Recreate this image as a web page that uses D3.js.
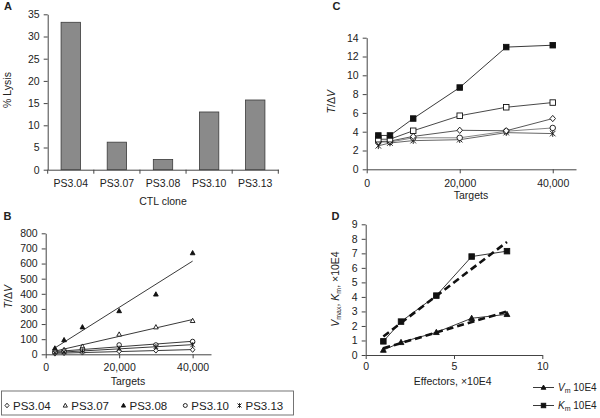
<!DOCTYPE html>
<html><head><meta charset="utf-8">
<script src="https://cdn.jsdelivr.net/npm/d3@7"></script>
<style>
body{margin:0;background:#fff}
svg{display:block}
text{font-family:"Liberation Sans",Arial,sans-serif;fill:#222}
</style>
</head><body>
<svg id="chart" width="600" height="418"></svg>
<script>
// ---------- DATA ----------
const clones = ["PS3.04", "PS3.07", "PS3.08", "PS3.10", "PS3.13"];
const lysis = [33.2, 6.2, 2.3, 13.0, 15.7];
const aYTicks = [0, 5, 10, 15, 20, 25, 30, 35];

const targets = [2500, 5000, 10000, 20000, 30000, 40000];
const targetTicks = [0, 20000, 40000];

// Panel B: T/ΔV per clone
const bPS304 = [5, 8, 12, 20, 25, 30];
const bPS307 = [25, 30, 52, 132, 180, 222];
const bPS308 = [40, 95, 180, 287, 397, 670];
const bPS310 = [15, 22, 30, 62, 62, 85];
const bPS313 = [10, 15, 22, 40, 50, 62];
const bYTicks = [0, 100, 200, 300, 400, 500, 600, 700, 800];

// Panel C: T/ΔV per clone
const cPS308 = [3.6, 3.6, 5.4, 8.7, 13.0, 13.2];
const cPS307 = [3.2, 3.2, 4.1, 5.7, 6.6, 7.1];
const cPS304 = [2.95, 3.0, 3.5, 4.15, 4.1, 5.4];
const cPS310 = [2.9, 2.9, 3.35, 3.35, 4.05, 4.4];
const cPS313 = [2.5, 2.8, 3.05, 3.15, 3.9, 3.8];
const cYTicks = [0, 2, 4, 6, 8, 10, 12, 14];

// Panel D
const effectors = [1, 2, 4, 6, 8];
const vm = [0.34, 0.87, 1.56, 2.53, 2.8];
const km = [0.94, 2.3, 4.09, 6.78, 7.15];
const dXTicks = [0, 5, 10];
const dYTicks = [0, 1, 2, 3, 4, 5, 6, 7, 8, 9];

// ---------- HELPERS ----------
const svg = d3.select("#chart");
const FONT = '"Liberation Sans",Arial,sans-serif';
const AX = "#444";

function styleAxis(g, fs) {
  g.attr("font-family", FONT).attr("font-size", fs || 10.5);
  g.selectAll("path,line").attr("stroke", AX).attr("stroke-width", 1);
  g.selectAll("text").attr("fill", "#222");
}
function linReg(xs, ys) {
  const mx = d3.mean(xs), my = d3.mean(ys);
  let sxy = 0, sxx = 0;
  xs.forEach((x, i) => { sxy += (x - mx) * (ys[i] - my); sxx += (x - mx) * (x - mx); });
  const m = sxy / sxx;
  return x => my + m * (x - mx);
}
function marker(g, type, x, y, s) {
  const h = s / 2;
  let el;
  if (type === "sqFill" || type === "sqOpen") {
    el = g.append("rect").attr("x", x - h).attr("y", y - h).attr("width", s).attr("height", s)
      .attr("fill", type === "sqFill" ? "#111" : "#fff");
  } else if (type === "diamond") {
    el = g.append("path").attr("d", `M${x},${y - h * 1.15}L${x + h},${y}L${x},${y + h * 1.15}L${x - h},${y}Z`).attr("fill", "#fff");
  } else if (type === "triOpen" || type === "triFill") {
    el = g.append("path").attr("d", `M${x},${y - h * 1.1}L${x + h * 1.05},${y + h * 0.8}L${x - h * 1.05},${y + h * 0.8}Z`)
      .attr("fill", type === "triFill" ? "#111" : "#fff");
  } else if (type === "circle") {
    el = g.append("circle").attr("cx", x).attr("cy", y).attr("r", h).attr("fill", "#fff");
  } else if (type === "star") {
    el = g.append("path").attr("d", `M${x - h},${y - h}L${x + h},${y + h}M${x - h},${y + h}L${x + h},${y - h}M${x},${y - h * 1.2}L${x},${y + h * 1.2}`).attr("fill", "none");
  }
  el.attr("stroke", "#111").attr("stroke-width", 0.9);
  return el;
}
function label(x, y, txt, opts) {
  opts = opts || {};
  const t = svg.append("text").attr("x", x).attr("y", y)
    .attr("font-size", opts.fs || 10.5).attr("text-anchor", opts.anchor || "middle")
    .attr("font-weight", opts.bold ? "bold" : null);
  if (opts.rot) t.attr("transform", `rotate(-90,${x},${y})`);
  if (txt) t.text(txt);
  return t;
}
function tDV(t) {
  t.append("tspan").attr("font-style", "italic").text("T");
  t.append("tspan").text("/\u0394");
  t.append("tspan").attr("font-style", "italic").text("V");
}

// ---------- PANEL A ----------
const xA = d3.scaleBand().domain(clones).range([47.7, 278.3]).paddingInner(0.58).paddingOuter(0.29);
const yA = d3.scaleLinear().domain([0, 35]).range([169.7, 14.3]);
const gA = svg.append("g");
gA.selectAll("rect.bar").data(clones).join("rect").attr("class", "bar")
  .attr("x", d => xA(d)).attr("width", xA.bandwidth())
  .attr("y", (d, i) => yA(lysis[i])).attr("height", (d, i) => yA(0) - yA(lysis[i]))
  .attr("fill", "#8a8a8a").attr("stroke", "#3a3a3a").attr("stroke-width", 0.8);
const aY = gA.append("g").attr("transform", "translate(47.7,0)")
  .call(d3.axisLeft(yA).tickValues(aYTicks).tickSize(4).tickPadding(4).tickSizeOuter(0));
styleAxis(aY);
const aX = gA.append("g").attr("transform", `translate(0,${yA(0)})`)
  .call(d3.axisBottom(xA).tickSize(0).tickPadding(10).tickSizeOuter(0));
styleAxis(aX);
d3.range(clones.length + 1).forEach(i => {
  const x = xA.range()[0] + i * xA.step();
  gA.append("line").attr("x1", x).attr("x2", x).attr("y1", yA(0)).attr("y2", yA(0) + 4).attr("stroke", AX);
});
label(11, 90, "% Lysis", {rot: true});
label(163, 205, "CTL clone");
label(4, 9.5, "A", {anchor: "start", bold: true, fs: 11});

// ---------- PANEL B ----------
const xB = d3.scaleLinear().domain([0, 45000]).range([45.7, 211]);
const yB = d3.scaleLinear().domain([0, 800]).range([354.3, 233.3]);
const gB = svg.append("g");
const bSeries = [
  {v: bPS304, m: "diamond"}, {v: bPS307, m: "triOpen"}, {v: bPS308, m: "triFill"},
  {v: bPS310, m: "circle"}, {v: bPS313, m: "star"}
];
bSeries.forEach(s => {
  const f = linReg(targets, s.v);
  gB.append("line").attr("x1", xB(targets[0])).attr("y1", yB(f(targets[0])))
    .attr("x2", xB(targets[targets.length - 1])).attr("y2", yB(f(targets[targets.length - 1])))
    .attr("stroke", "#222").attr("stroke-width", 0.9);
});
bSeries.forEach(s => {
  s.v.forEach((v, i) => marker(gB, s.m, xB(targets[i]), yB(v), 4.5));
});
const bY = gB.append("g").attr("transform", "translate(45.7,0)")
  .call(d3.axisLeft(yB).tickValues(bYTicks).tickSize(4).tickPadding(4).tickSizeOuter(0));
styleAxis(bY);
const bX = gB.append("g").attr("transform", `translate(0,${yB(0)})`)
  .call(d3.axisBottom(xB).tickValues(targetTicks).tickFormat(d3.format(",")).tickSize(4).tickPadding(5).tickSizeOuter(0));
styleAxis(bX);
tDV(label(12, 296.7, null, {rot: true}));
label(128, 385, "Targets");
label(3.5, 220, "B", {anchor: "start", bold: true, fs: 11});

// legend B
svg.append("rect").attr("x", 1.5).attr("y", 391).attr("width", 292).attr("height", 24)
  .attr("fill", "none").attr("stroke", "#666").attr("stroke-width", 0.9);
const legX = [7, 65.3, 123.5, 185.3, 239.5];
clones.forEach((c, i) => {
  marker(svg, bSeries[i].m, legX[i], 405.5, 4);
  label(legX[i] + 6, 409.5, c, {anchor: "start", fs: 11.5});
});

// ---------- PANEL C ----------
const xC = d3.scaleLinear().domain([0, 45000]).range([366.7, 576]);
const yC = d3.scaleLinear().domain([0, 14]).range([169.3, 37.7]);
const gC = svg.append("g");
const cSeries = [
  {v: cPS313, m: "star", c: "#555"}, {v: cPS310, m: "circle", c: "#777"},
  {v: cPS304, m: "diamond", c: "#444"}, {v: cPS307, m: "sqOpen", c: "#333"},
  {v: cPS308, m: "sqFill", c: "#222"}
];
const lineC = d3.line().x((d, i) => xC(targets[i])).y(d => yC(d));
cSeries.forEach(s => {
  gC.append("path").attr("d", lineC(s.v)).attr("fill", "none").attr("stroke", s.c).attr("stroke-width", 0.9);
});
cSeries.forEach(s => {
  s.v.forEach((v, i) => marker(gC, s.m, xC(targets[i]), yC(v), 5.5));
});
const cY = gC.append("g").attr("transform", "translate(366.7,0)")
  .call(d3.axisLeft(yC).tickValues(cYTicks).tickSize(4).tickPadding(4).tickSizeOuter(0));
styleAxis(cY);
const cX = gC.append("g").attr("transform", `translate(0,${yC(0)})`)
  .call(d3.axisBottom(xC).tickValues(targetTicks).tickFormat(d3.format(",")).tickSize(4).tickPadding(6).tickSizeOuter(0));
styleAxis(cX);
tDV(label(335.5, 101.7, null, {rot: true}));
label(471, 199, "Targets");
label(332.5, 9.5, "C", {anchor: "start", bold: true, fs: 11});

// ---------- PANEL D ----------
const xD = d3.scaleLinear().domain([0, 10]).range([365.7, 542.3]);
const yD = d3.scaleLinear().domain([0, 9]).range([355, 224.3]);
const gD = svg.append("g");
const lineD = d3.line().x((d, i) => xD(effectors[i])).y(d => yD(d));
[{v: km, m: "sqFill"}, {v: vm, m: "triFill"}].forEach(s => {
  gD.append("path").attr("d", lineD(s.v)).attr("fill", "none").attr("stroke", "#222").attr("stroke-width", 0.9);
  const f = linReg(effectors, s.v);
  const x0 = effectors[0], x1 = effectors[effectors.length - 1];
  gD.append("line").attr("x1", xD(x0)).attr("y1", yD(f(x0))).attr("x2", xD(x1)).attr("y2", yD(f(x1)))
    .attr("stroke", "#111").attr("stroke-width", 2.6).attr("stroke-dasharray", "7,4");
  s.v.forEach((v, i) => marker(gD, s.m, xD(effectors[i]), yD(v), 5.5));
});
const dY = gD.append("g").attr("transform", "translate(365.7,0)")
  .call(d3.axisLeft(yD).tickValues(dYTicks).tickSize(4).tickPadding(4).tickSizeOuter(0));
styleAxis(dY);
const dX = gD.append("g").attr("transform", `translate(0,${yD(0)})`)
  .call(d3.axisBottom(xD).tickValues(dXTicks).tickSize(4).tickPadding(4).tickSizeOuter(0));
styleAxis(dX);
const dyl = label(339, 289, null, {rot: true});
dyl.append("tspan").attr("font-style", "italic").text("V");
dyl.append("tspan").attr("font-size", 7).attr("dy", 2).text("max");
dyl.append("tspan").attr("dy", -2).text(", ");
dyl.append("tspan").attr("font-style", "italic").text("K");
dyl.append("tspan").attr("font-size", 7).attr("dy", 2).text("m");
dyl.append("tspan").attr("dy", -2).text(", \u00d710E4");
label(452.7, 385, "Effectors, \u00d710E4");
label(331.5, 219.5, "D", {anchor: "start", bold: true, fs: 11});

// legend D
[{y: 387.5, m: "triFill", s: "V"}, {y: 405.5, m: "sqFill", s: "K"}].forEach(e => {
  svg.append("line").attr("x1", 533).attr("x2", 554).attr("y1", e.y).attr("y2", e.y).attr("stroke", "#222").attr("stroke-width", 0.9);
  marker(svg, e.m, 543.5, e.y, 4.5);
  const t = label(558, e.y + 3.6, null, {anchor: "start", fs: 10});
  t.append("tspan").attr("font-style", "italic").text(e.s);
  t.append("tspan").attr("font-size", 7).attr("dy", 2).text("m");
  t.append("tspan").attr("dy", -2).text(" 10E4");
});
</script>
</body></html>
